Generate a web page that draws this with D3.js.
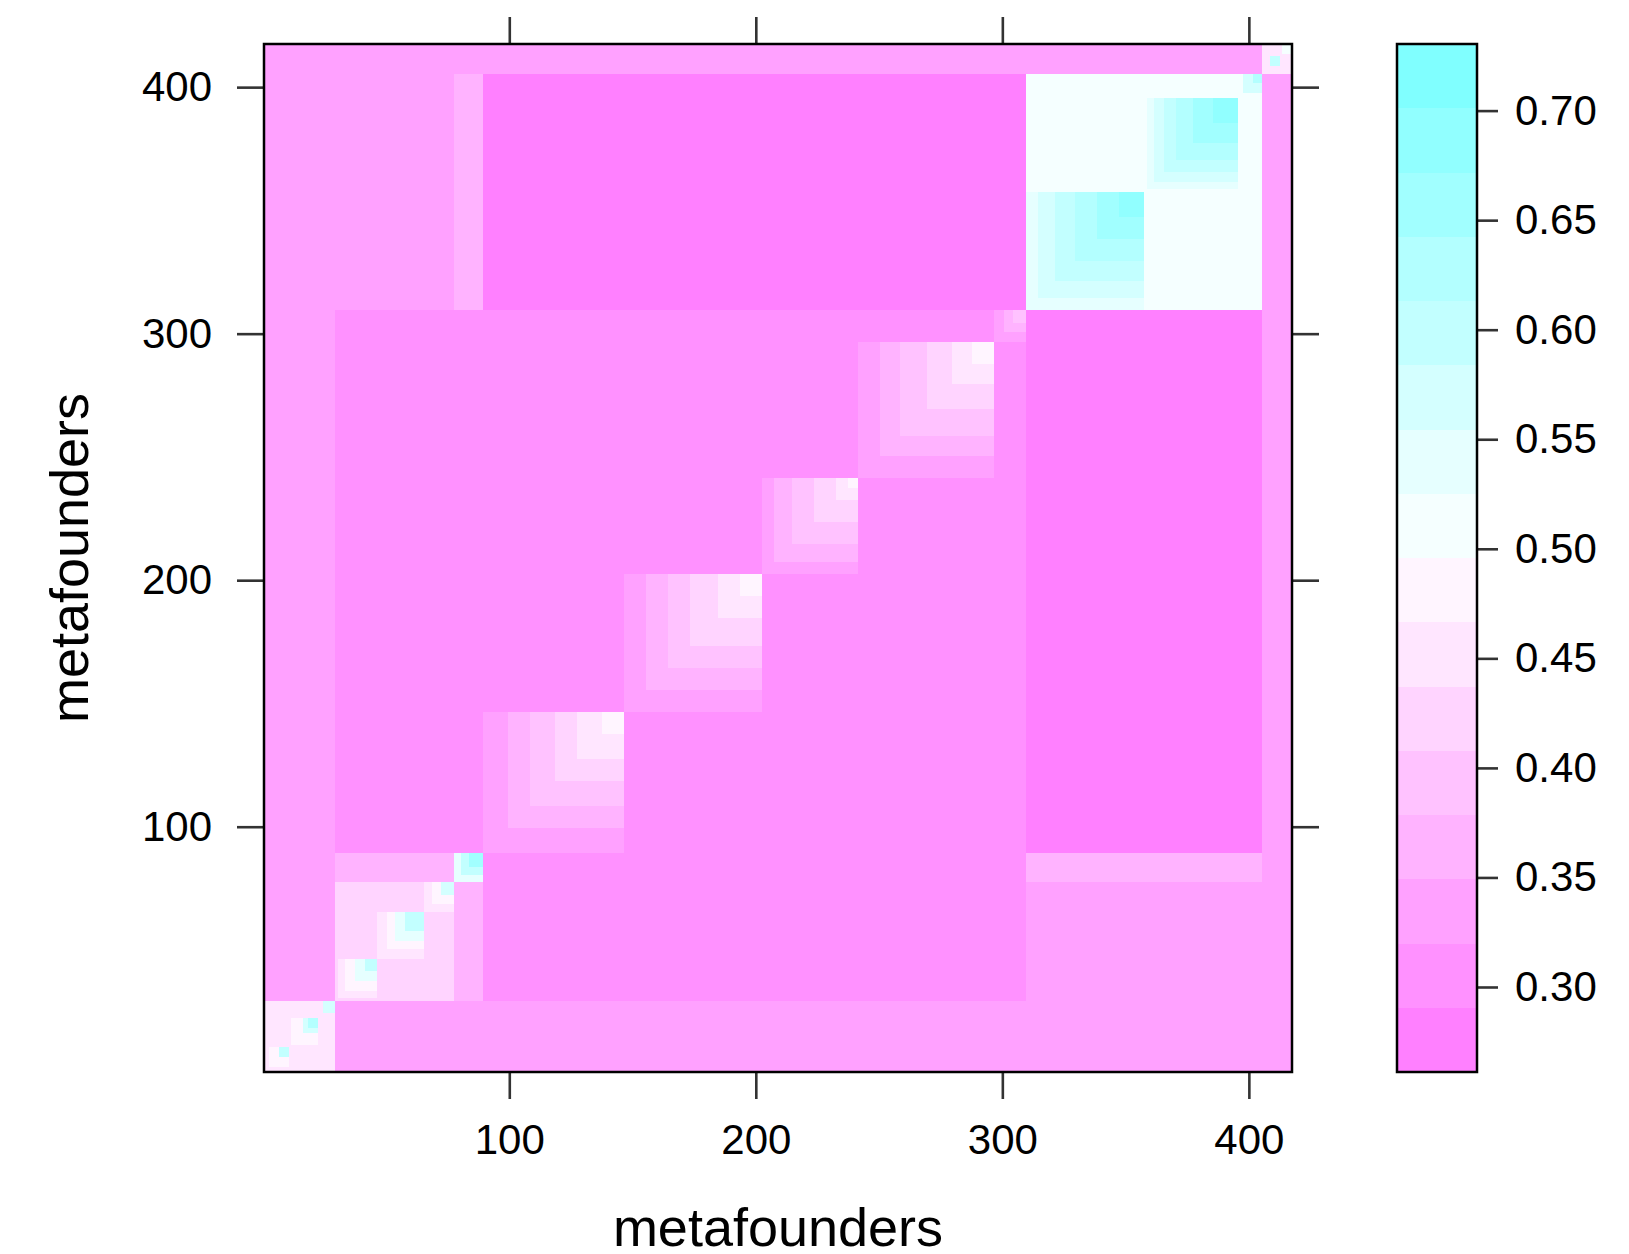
<!DOCTYPE html>
<html>
<head>
<meta charset="utf-8">
<script src="https://cdn.jsdelivr.net/npm/d3@7"></script>
<style>
  body { margin: 0; background: #fff; }
  svg { display: block; font-family: "Liberation Sans", Arial, Helvetica, sans-serif; }
</style>
</head>
<body>
<div id="chart"></div>
<script>
const N = 417;
const xTicks = [100, 200, 300, 400];
const yTicks = [100, 200, 300, 400];
const keyTicks = [0.30, 0.35, 0.40, 0.45, 0.50, 0.55, 0.60, 0.65, 0.70];
const keyLimits = [0.2612, 0.7304];
const nBands = 16;
const xLabel = 'metafounders';
const yLabel = 'metafounders';

// value for pairs not covered by any block below
const baseValue = 0.335;

// between-group blocks [rowFrom, rowTo, colFrom, colTo, value], mirrored
const crossBlocks = [
  [30, 309, 30, 309, 0.305],
  [90, 309, 310, 405, 0.28],
  [78, 89, 310, 405, 0.365],
];

// within-group blocks [from, to, value] on the diagonal, painted in order
const groupA = [[1, 29, 0.45], [3, 10, 0.48], [7, 10, 0.60], [12, 22, 0.48], [17, 22, 0.57], [19, 22, 0.63], [25, 29, 0.57]];
const groupB = [[30, 89, 0.365], [30, 77, 0.42],
  [31, 46, 0.45], [34, 46, 0.48], [38, 46, 0.54], [42, 46, 0.60],
  [47, 65, 0.45], [51, 65, 0.48], [54, 65, 0.54], [58, 65, 0.60],
  [66, 77, 0.45], [69, 77, 0.48], [73, 77, 0.57],
  [78, 89, 0.54], [81, 89, 0.60], [84, 89, 0.655]];
const groupC = [[90, 146, 0.335], [100, 146, 0.365], [109, 146, 0.395], [119, 146, 0.42], [128, 146, 0.45], [138, 146, 0.48]];
const groupD = [[147, 202, 0.335], [156, 202, 0.365], [165, 202, 0.395], [174, 202, 0.42], [185, 202, 0.45], [194, 202, 0.48]];
const groupE = [[203, 241, 0.335], [208, 241, 0.365], [215, 241, 0.395], [224, 241, 0.42], [233, 241, 0.45], [238, 241, 0.48]];
const groupF = [[242, 296, 0.335], [251, 296, 0.365], [259, 296, 0.395], [270, 296, 0.42], [280, 296, 0.45], [288, 296, 0.48],
  [297, 309, 0.335], [301, 309, 0.365], [305, 309, 0.395]];
const groupG = [[310, 405, 0.51],
  [310, 357, 0.54], [315, 357, 0.57], [322, 357, 0.60], [330, 357, 0.63], [339, 357, 0.655], [348, 357, 0.685],
  [359, 395, 0.54], [362, 395, 0.57], [366, 395, 0.60], [371, 395, 0.63], [378, 395, 0.655], [386, 395, 0.685],
  [398, 405, 0.57], [402, 405, 0.63]];
const groupH = [[406, 417, 0.45], [409, 412, 0.60], [414, 417, 0.51]];

const width = 1629;
const height = 1254;
const panel = { left: 264, right: 1292, top: 44, bottom: 1072 };
const key = { left: 1397, right: 1477, top: 44, bottom: 1072 };

// build the symmetric matrix
const matrix = Array.from({ length: N }, () => new Array(N).fill(baseValue));
function fillBlock(r0, r1, c0, c1, v) {
  for (let i = r0; i <= r1; i++) {
    for (let j = c0; j <= c1; j++) {
      matrix[i - 1][j - 1] = v;
      matrix[j - 1][i - 1] = v;
    }
  }
}
crossBlocks.forEach(([r0, r1, c0, c1, v]) => fillBlock(r0, r1, c0, c1, v));
[groupA, groupB, groupC, groupD, groupE, groupF, groupG, groupH].forEach((g) =>
  g.forEach(([a, b, v]) => fillBlock(a, b, a, b, v))
);

// R cm.colors(100), reversed, sampled like lattice level.colors
function cmColors(n) {
  const k = Math.floor(n / 2);
  const even = n % 2 === 0;
  const l1 = k + 1 - (even ? 1 : 0);
  const l2 = n - k + (even ? 1 : 0);
  const out = [];
  const sEnd = even ? 0.5 / k : 0;
  for (let i = 0; i < l1; i++) {
    const s = 0.5 + (sEnd - 0.5) * i / (l1 - 1);
    out.push(d3.rgb(255 * (1 - s), 255, 255));
  }
  for (let i = 1; i < l2; i++) {
    const s = 0.5 * i / (l2 - 1);
    out.push(d3.rgb(255, 255 * (1 - s), 255));
  }
  return out;
}
const palette = cmColors(100).reverse();
const bandColors = d3.range(nBands).map((k) =>
  palette[Math.round(k * (palette.length - 1) / (nBands - 1))].formatHex()
);
const at = d3.range(nBands + 1).map((k) => keyLimits[0] + k * (keyLimits[1] - keyLimits[0]) / nBands);
const color = d3.scaleQuantize().domain(keyLimits).range(bandColors);

const svg = d3.select('#chart').append('svg')
  .attr('width', width)
  .attr('height', height)
  .attr('viewBox', `0 0 ${width} ${height}`);

const xScale = d3.scaleLinear().domain([0.5, N + 0.5]).range([panel.left, panel.right]);
const yScale = d3.scaleLinear().domain([0.5, N + 0.5]).range([panel.bottom, panel.top]);
const kScale = d3.scaleLinear().domain(keyLimits).range([key.bottom, key.top]);

// runs of equal colour along each row
const runs = [];
for (let r = 0; r < N; r++) {
  let start = 0;
  for (let c = 1; c <= N; c++) {
    if (c === N || color(matrix[r][c]) !== color(matrix[r][start])) {
      runs.push({ row: r + 1, c0: start + 1, c1: c, fill: color(matrix[r][start]) });
      start = c;
    }
  }
}

svg.append('g')
  .attr('class', 'cells')
  .attr('shape-rendering', 'crispEdges')
  .selectAll('rect')
  .data(runs)
  .join('rect')
  .attr('x', (d) => xScale(d.c0 - 0.5))
  .attr('width', (d) => xScale(d.c1 + 0.5) - xScale(d.c0 - 0.5))
  .attr('y', (d) => yScale(d.row + 0.5))
  .attr('height', (d) => yScale(d.row - 0.5) - yScale(d.row + 0.5))
  .attr('fill', (d) => d.fill);

function styleAxis(g) {
  g.select('.domain').remove();
  g.selectAll('line').attr('stroke', '#333').attr('stroke-width', 2.6);
  g.selectAll('text').attr('font-size', 42).attr('fill', '#000')
    .attr('font-family', '"Liberation Sans", Arial, sans-serif');
}

svg.append('g')
  .attr('transform', `translate(0, ${panel.bottom})`)
  .call(d3.axisBottom(xScale).tickValues(xTicks).tickSize(27).tickPadding(25))
  .call(styleAxis);
svg.append('g')
  .attr('transform', `translate(0, ${panel.top})`)
  .call(d3.axisTop(xScale).tickValues(xTicks).tickSize(27).tickFormat(''))
  .call(styleAxis);
svg.append('g')
  .attr('transform', `translate(${panel.left}, 0)`)
  .call(d3.axisLeft(yScale).tickValues(yTicks).tickSize(27).tickPadding(25))
  .call(styleAxis);
svg.append('g')
  .attr('transform', `translate(${panel.right}, 0)`)
  .call(d3.axisRight(yScale).tickValues(yTicks).tickSize(27).tickFormat(''))
  .call(styleAxis);

svg.append('rect')
  .attr('x', panel.left)
  .attr('y', panel.top)
  .attr('width', panel.right - panel.left)
  .attr('height', panel.bottom - panel.top)
  .attr('fill', 'none')
  .attr('stroke', '#000')
  .attr('stroke-width', 2.5);

// colour key
svg.append('g')
  .attr('shape-rendering', 'crispEdges')
  .selectAll('rect')
  .data(d3.range(nBands))
  .join('rect')
  .attr('x', key.left)
  .attr('width', key.right - key.left)
  .attr('y', (k) => kScale(at[k + 1]))
  .attr('height', (k) => kScale(at[k]) - kScale(at[k + 1]))
  .attr('fill', (k) => bandColors[k]);

svg.append('g')
  .attr('transform', `translate(${key.right}, 0)`)
  .call(d3.axisRight(kScale).tickValues(keyTicks).tickSize(21).tickPadding(17).tickFormat(d3.format('.2f')))
  .call(styleAxis);

svg.append('rect')
  .attr('x', key.left)
  .attr('y', key.top)
  .attr('width', key.right - key.left)
  .attr('height', key.bottom - key.top)
  .attr('fill', 'none')
  .attr('stroke', '#000')
  .attr('stroke-width', 2.5);

svg.append('text')
  .attr('x', (panel.left + panel.right) / 2)
  .attr('y', 1246)
  .attr('text-anchor', 'middle')
  .attr('font-size', 54)
  .text(xLabel);

svg.append('text')
  .attr('transform', `translate(88, ${(panel.top + panel.bottom) / 2}) rotate(-90)`)
  .attr('text-anchor', 'middle')
  .attr('font-size', 54)
  .text(yLabel);
</script>
</body>
</html>
